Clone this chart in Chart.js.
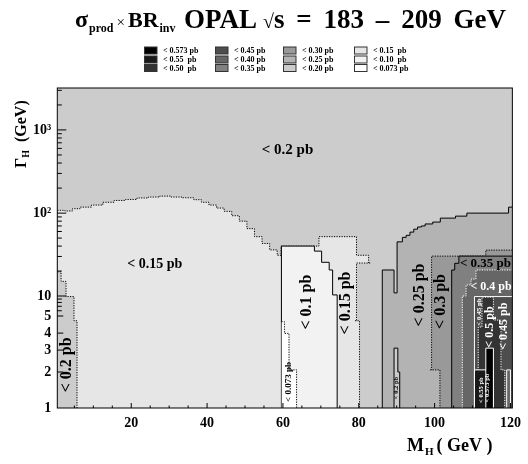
<!DOCTYPE html>
<html>
<head>
<meta charset="utf-8">
<script src="https://cdn.jsdelivr.net/npm/chart.js@4.4.0/dist/chart.umd.min.js"></script>
<style>
  html, body { margin: 0; padding: 0; background: #fff; }
  #wrap { width: 528px; height: 464px; }
</style>
</head>
<body>
<div id="wrap"><canvas id="chart" width="528" height="464"></canvas></div>
<script>
const SERIF = '"Liberation Serif", "Times New Roman", serif';

// Cross-section levels (legend) and their grey shades
const LEVELS = ['< 0.573 pb', '< 0.55  pb', '< 0.50  pb', '< 0.45 pb', '< 0.40 pb', '< 0.35 pb',
                '< 0.30 pb', '< 0.25 pb', '< 0.20 pb', '< 0.15  pb', '< 0.10  pb', '< 0.073 pb'];
const LEVEL_COLORS = ['#000000', '#1a1a1a', '#333333', '#4d4d4d', '#666666', '#808080',
                      '#999999', '#b3b3b3', '#cccccc', '#e6e6e6', '#f2f2f2', '#ffffff'];

// Axes
const M_MIN = 0.5, M_MAX = 120.5;
const G_MIN = 1, G_MAX = 3200;
const X_TICKS = [5, 10, 15, 20, 25, 30, 35, 40, 45, 50, 55, 60, 65, 70, 75, 80, 85, 90, 95, 100, 105, 110, 115, 120];
const X_TICK_LABELS = [20, 40, 60, 80, 100, 120];
const Y_MAJOR = [1, 2, 3, 4, 5, 10, 100, 1000];
const Y_MAJOR_LABELS = ['1', '2', '3', '4', '5', '10', '10\u00b2', '10\u00b3'];
const Y_MINOR = [6, 7, 8, 9, 20, 30, 40, 50, 60, 70, 80, 90, 200, 300, 400, 500, 600, 700, 800, 900, 2000, 3000];
// the Gamma axis is not a plain log axis below 10: where each value sits (fraction of axis height)
const Y_AXIS_G = [1, 2, 3, 4, 5, 10, 100, 1000, 3200];
const Y_AXIS_FRAC = [0, 0.1125, 0.181, 0.234, 0.2875, 0.35, 0.609, 0.869, 1];

// Regions: bin edges in M_H (GeV) and upper edge in Gamma_H (GeV), each one filled down to the axis
const BG_M = [0.5, 120.5], BG_G = [3200];
const R015_M = [0.5, 2.5, 4.5, 6.5, 9.5, 12.5, 15.5, 18.5, 21.5, 24.5, 27.5, 30.5, 33.5, 36.5, 38.5, 40.5, 42.5,
                44.5, 46.5, 48.5, 50.5, 52.5, 54.5, 56.5, 58.5, 59.5, 69.5, 79.4, 82.6];
const R015_G = [108, 106, 113, 118, 125, 135, 142, 146, 152, 156, 160, 156, 153, 145, 135, 125, 115, 105, 93, 80,
                65, 52, 43, 36, 31, 40, 52, 31];
const L020_M = [0.5, 1.5, 2.8, 4.9, 5.7], L020_G = [19.6, 15, 9.8, 4.7];
const P020_M = [79.4, 83.0], P020_G = [25];
const P015_M = [79.0, 80.2], P015_G = [4.7];
const R010_M = [59.6, 68.3, 70.2, 72.2, 73.1, 74.3], R010_G = [40, 34.8, 25.5, 20.6, 10.3];
const R0073_M = [59.6, 60.4, 61.6, 63.6], R0073_G = [4.64, 3.98, 2.08];
const R025_M = [86.2, 89.3, 90.1, 91.5, 92.5, 93.5, 94.5, 95.5, 96.5, 97.5, 99.5, 101.5, 105.5, 108.5, 119.5, 120.5];
const R025_G = [20.6, 10.9, 45, 51, 54, 59, 64, 68, 70, 74, 78, 87, 92, 100, 118];
const S020_M = [89.3, 90.3, 90.8], S020_G = [3.1, 2.0];
const R030_M = [99.2, 113.5, 120.5], R030_G = [30.3, 35.8];
const P025_M = [98.8, 101.4], P025_G = [2.08];
const R035_M = [104.5, 105.3, 106.4, 120.5], R035_G = [20.6, 24.8, 30.3];
const R040_M = [107.3, 108.3, 109.6, 110.9, 120.5], R040_G = [10, 13.6, 16, 20.6];
const R045_M = [110.5, 120.5], R045_G = [9.8];
const R050_M = [111.5, 112.5, 115.5, 117.5, 118.5], R050_G = [4.33, 9.6, 4.74, 2.08];
const R055_M = [110.5, 115.5], R055_G = [2.08];
const R0573_M = [113.5, 115.5], R0573_G = [3.1];
const B040_M = [119, 120], B040_G = [2.08];

// text written inside the plot
const REGION_LABELS = [
  { text: '< 0.2 pb', m: 61.2, g: 574, rot: false, size: 15, white: false },
  { text: '< 0.15 pb', m: 26.2, g: 24.3, rot: false, size: 14, white: false },
  { text: '< 0.2 pb', m: 2.96, g: 2.28, rot: true, size: 16, white: false },
  { text: '< 0.1 pb', m: 66.2, g: 8.1, rot: true, size: 16, white: false },
  { text: '< 0.15 pb', m: 76.5, g: 7.85, rot: true, size: 16, white: false },
  { text: '< 0.073 pb', m: 61.5, g: 1.65, rot: true, size: 9, white: false },
  { text: '< 0.25 pb', m: 96.0, g: 10.3, rot: true, size: 16, white: false },
  { text: '< 0.3 pb', m: 101.6, g: 8.26, rot: true, size: 16, white: false },
  { text: '< 0.35 pb', m: 113.4, g: 24.6, rot: false, size: 13, white: false },
  { text: '< 0.4 pb', m: 114.9, g: 12.7, rot: false, size: 12, white: true },
  { text: '< 0.45 pb', m: 111.7, g: 5.74, rot: true, size: 7, white: true },
  { text: '< 0.5 pb', m: 114.6, g: 4.33, rot: true, size: 12, white: true },
  { text: '< 0.45 pb', m: 118.4, g: 4.38, rot: true, size: 12, white: true },
  { text: '< 0.2 pb', m: 89.98, g: 1.47, rot: true, size: 6.5, white: false },
  { text: '< 0.55 pb', m: 112.3, g: 1.41, rot: true, size: 6.5, white: true },
  { text: '< 0.573 pb', m: 114.0, g: 1.47, rot: true, size: 6.5, white: true }
];

// painter order: [edges, tops, level index, boundary style, sides drawn]
const LAYERS = [
  [BG_M, BG_G, 8, null, ''],
  [R015_M, R015_G, 9, 'dotBlack', 'r'],
  [L020_M, L020_G, 8, 'dotBlack', 'r'],
  [P020_M, P020_G, 8, 'dotBlack', 'l'],
  [P015_M, P015_G, 9, 'dotBlack', 'r'],
  [R010_M, R010_G, 10, 'solidBlack', 'lr'],
  [R0073_M, R0073_G, 11, 'dotBlack', 'r'],
  [R025_M, R025_G, 7, 'solidBlack', 'l'],
  [S020_M, S020_G, 8, 'solidBlack', 'lr'],
  [R030_M, R030_G, 6, 'dotBlack', 'l'],
  [P025_M, P025_G, 7, 'dotBlack', 'r'],
  [R035_M, R035_G, 5, 'solidBlack', 'l'],
  [R040_M, R040_G, 4, 'dotWhite', 'l'],
  [R045_M, R045_G, 3, 'solidWhite', 'l'],
  [R050_M, R050_G, 2, 'dotWhite', 'lr'],
  [R055_M, R055_G, 1, 'solidWhite', 'lr'],
  [R0573_M, R0573_G, 0, 'solidWhite', 'lr'],
  [B040_M, B040_G, 4, 'solidWhite', 'lr']
];

function gammaToFrac(g) {
  const n = Y_AXIS_G.length;
  if (g <= Y_AXIS_G[0]) return 0;
  for (let i = 1; i < n; i++) {
    if (g <= Y_AXIS_G[i]) {
      const a = Math.log10(Y_AXIS_G[i - 1]), b = Math.log10(Y_AXIS_G[i]);
      return Y_AXIS_FRAC[i - 1] + (Math.log10(g) - a) / (b - a) * (Y_AXIS_FRAC[i] - Y_AXIS_FRAC[i - 1]);
    }
  }
  return 1;
}
function fracToGamma(f) {
  for (let i = 1; i < Y_AXIS_FRAC.length; i++) {
    if (f <= Y_AXIS_FRAC[i]) {
      const a = Math.log10(Y_AXIS_G[i - 1]), b = Math.log10(Y_AXIS_G[i]);
      const t = (f - Y_AXIS_FRAC[i - 1]) / (Y_AXIS_FRAC[i] - Y_AXIS_FRAC[i - 1]);
      return Math.pow(10, a + t * (b - a));
    }
  }
  return G_MAX;
}

// custom Gamma scale
const LinearScale = Chart.LinearScale || Chart.registry.getScale('linear');
class GammaScale extends LinearScale {
  determineDataLimits() { this.min = G_MIN; this.max = G_MAX; }
  buildTicks() {
    this.start = this.min;
    this.end = this.max;
    return [...Y_MAJOR, ...Y_MINOR].sort((a, b) => a - b).map(v => ({ value: v }));
  }
  getPixelForValue(v) { return this.getPixelForDecimal(gammaToFrac(v)); }
  getValueForPixel(p) { return fracToGamma(this.getDecimalForPixel(p)); }
}
GammaScale.id = 'gamma';
GammaScale.defaults = {};
Chart.register(GammaScale);

const LINE_STYLES = {
  dotBlack: { color: '#000', dash: [1.2, 1.3] },
  solidBlack: { color: '#000', dash: [] },
  dotWhite: { color: '#fff', dash: [1.2, 1.3] },
  solidWhite: { color: '#fff', dash: [] }
};

function makeRegion(edges, tops, level, style, sides) {
  const pts = [{ x: edges[0], y: G_MIN }];
  tops.forEach((g, i) => pts.push({ x: edges[i], y: g }));
  pts.push({ x: edges[edges.length - 1], y: tops[tops.length - 1] });
  pts.push({ x: edges[edges.length - 1], y: G_MIN });
  const last = pts.length - 1;
  const ls = style ? LINE_STYLES[style] : null;
  return {
    data: pts,
    backgroundColor: LEVEL_COLORS[level],
    fill: 'start',
    stepped: 'before',
    pointRadius: 0,
    borderWidth: ls ? 1 : 0,
    borderColor: ls ? ls.color : 'rgba(0,0,0,0)',
    borderDash: ls ? ls.dash : [],
    segment: {
      borderColor: ctx => {
        if (!ls) return 'rgba(0,0,0,0)';
        if (ctx.p0DataIndex === 0 && !sides.includes('l')) return 'rgba(0,0,0,0)';
        if (ctx.p1DataIndex === last && !sides.includes('r')) return 'rgba(0,0,0,0)';
        return ls.color;
      }
    }
  };
}

const datasets = LAYERS.map((l, i) => Object.assign(makeRegion(l[0], l[1], l[2], l[3], l[4]), { order: LAYERS.length - i }));

function setFont(ctx, p) { ctx.font = `${p.w || 'bold'} ${p.size}px ${SERIF}`; }

// draws pieces of text one after another; if xEnd is given the gaps are spread to end there
function drawRun(ctx, parts, x, y, xEnd) {
  let gap = 0;
  if (xEnd !== undefined) {
    let w = 0;
    parts.forEach(p => { setFont(ctx, p); w += ctx.measureText(p.t).width + (p.gap || 0); });
    const n = parts.filter(p => !p.tight).length - 1;
    gap = n > 0 ? (xEnd - x - w) / n : 0;
  }
  parts.forEach((p, i) => {
    setFont(ctx, p);
    ctx.fillText(p.t, x, y + (p.dy || 0));
    x += ctx.measureText(p.t).width + (p.gap || 0);
    if (i < parts.length - 1 && !parts[i + 1].tight) x += gap;
  });
  return x;
}

const decorations = {
  id: 'decorations',
  afterDatasetsDraw(chart) {
    const { ctx, chartArea: a, scales: { x, y } } = chart;
    ctx.save();
    REGION_LABELS.forEach(l => {
      ctx.save();
      ctx.translate(x.getPixelForValue(l.m), y.getPixelForValue(l.g));
      if (l.rot) ctx.rotate(-Math.PI / 2);
      ctx.font = `bold ${l.size}px ${SERIF}`;
      ctx.fillStyle = l.white ? '#fff' : '#000';
      ctx.textAlign = 'center';
      ctx.textBaseline = 'middle';
      ctx.fillText(l.text, 0, 0);
      ctx.restore();
    });
    // frame and inward ticks
    ctx.strokeStyle = '#000';
    ctx.lineWidth = 1;
    ctx.strokeRect(a.left, a.top, a.right - a.left, a.bottom - a.top);
    ctx.beginPath();
    x.ticks.forEach(t => {
      const px = x.getPixelForValue(t.value);
      const len = X_TICK_LABELS.includes(t.value) ? 5 : 2.5;
      ctx.moveTo(px, a.bottom);
      ctx.lineTo(px, a.bottom - len);
    });
    y.ticks.forEach(t => {
      if (t.value <= G_MIN) return;
      const py = y.getPixelForValue(t.value);
      let len = 4.5;
      if ([10, 100, 1000].includes(t.value)) len = 9;
      else if (Y_MAJOR.includes(t.value)) len = 6;
      ctx.moveTo(a.left, py);
      ctx.lineTo(a.left + len, py);
    });
    ctx.stroke();
    ctx.restore();
  },
  afterDraw(chart) {
    const { ctx } = chart;
    ctx.save();
    ctx.fillStyle = '#000';
    ctx.textBaseline = 'alphabetic';
    ctx.textAlign = 'left';
    // title
    drawRun(ctx, [
      { t: '\u03c3', size: 24, gap: 1 },
      { t: 'prod', size: 12, dy: 5, gap: 3 },
      { t: '\u00d7', size: 15, w: 'normal', gap: 3 },
      { t: 'BR', size: 22, gap: 1 },
      { t: 'inv', size: 12, dy: 5 }
    ], 75, 27);
    drawRun(ctx, [
      { t: 'OPAL', size: 27, gap: 6 },
      { t: '\u221a', size: 20, tight: true },
      { t: 's', size: 27, tight: true },
      { t: '=', size: 27 },
      { t: '183', size: 27 },
      { t: '\u2013', size: 27 },
      { t: '209', size: 27 },
      { t: 'GeV', size: 27 }
    ], 184, 28, 506);
    // legend
    const cols = [144, 215, 283, 354];
    const rows = [50.5, 59.5, 68];
    ctx.lineWidth = 1;
    ctx.strokeStyle = '#333';
    LEVELS.forEach((lab, i) => {
      const cx = cols[Math.floor(i / 3)], cy = rows[i % 3];
      ctx.fillStyle = LEVEL_COLORS[i];
      ctx.fillRect(cx, cy - 3.5, 13, 7);
      ctx.strokeRect(cx + 0.5, cy - 3.5, 12.5, 7);
      ctx.fillStyle = '#000';
      ctx.font = `bold 8px ${SERIF}`;
      ctx.textBaseline = 'middle';
      ctx.fillText(lab, cx + 19, cy + 0.5);
    });
    // axis titles
    ctx.textBaseline = 'alphabetic';
    drawRun(ctx, [
      { t: 'M', size: 18, gap: 1 },
      { t: 'H', size: 11, dy: 4, gap: 3 },
      { t: '( GeV )', size: 18 }
    ], 407, 451);
    ctx.save();
    ctx.translate(26, 168);
    ctx.rotate(-Math.PI / 2);
    drawRun(ctx, [
      { t: '\u0393', size: 16 },
      { t: 'H', size: 10, dy: 3 },
      { t: '  (GeV)', size: 16 }
    ], 0, 0);
    ctx.restore();
    ctx.restore();
  }
};

new Chart(document.getElementById('chart'), {
  type: 'line',
  data: { datasets },
  options: {
    responsive: false,
    animation: false,
    events: [],
    devicePixelRatio: 1,
    layout: { padding: { top: 88, right: 8.7, left: 0, bottom: 0 } },
    plugins: { legend: { display: false }, tooltip: { enabled: false }, title: { display: false } },
    scales: {
      x: {
        type: 'linear', min: M_MIN, max: M_MAX,
        grid: { display: false, drawTicks: false },
        border: { display: false },
        afterBuildTicks: s => { s.ticks = X_TICKS.map(v => ({ value: v })); },
        afterFit: s => { s.height = 56; },
        ticks: {
          autoSkip: false, maxRotation: 0, padding: 7, color: '#000',
          font: { family: SERIF, size: 14, weight: 'bold' },
          callback: v => X_TICK_LABELS.includes(v) ? String(v) : ''
        }
      },
      y: {
        type: 'gamma',
        grid: { display: false, drawTicks: false },
        border: { display: false },
        afterFit: s => { s.width = 57.3; },
        ticks: {
          autoSkip: false, padding: 6, color: '#000',
          font: { family: SERIF, size: 14, weight: 'bold' },
          callback: v => { const i = Y_MAJOR.indexOf(v); return i >= 0 ? Y_MAJOR_LABELS[i] : ''; }
        }
      }
    }
  },
  plugins: [decorations]
});
</script>
</body>
</html>
